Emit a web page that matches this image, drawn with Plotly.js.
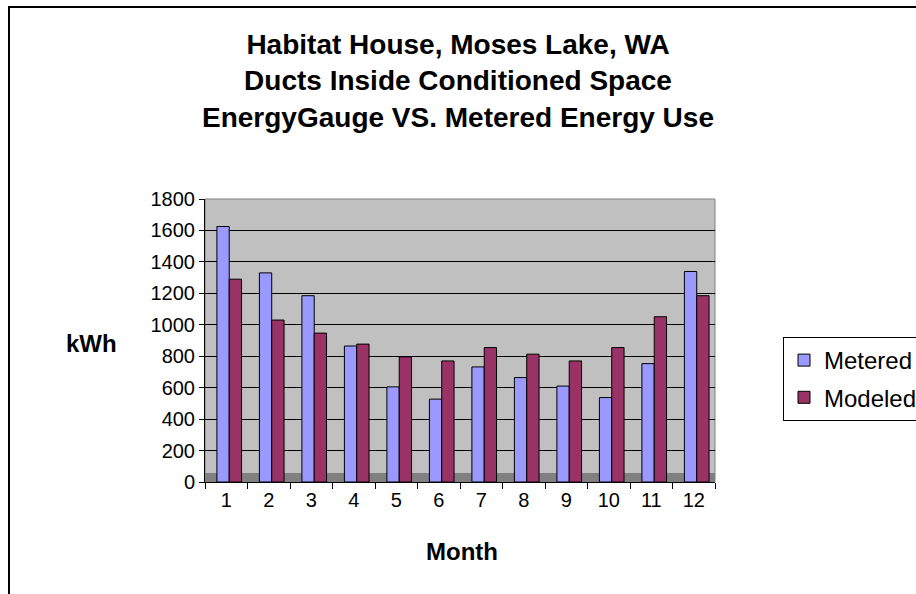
<!DOCTYPE html>
<html>
<head>
<meta charset="utf-8">
<script src="https://cdn.plot.ly/plotly-3.0.1.min.js"></script>
<style>
html,body{margin:0;padding:0;background:#fff;overflow:hidden;}
#frame{position:absolute;left:8px;top:6px;width:1000px;height:1000px;border:2px solid #000;box-sizing:border-box;pointer-events:none;z-index:5;}
#chart{position:absolute;left:0;top:0;width:916px;height:594px;}
</style>
</head>
<body>
<div id="chart"></div>
<div id="frame"></div>
<script>
const months = ['1','2','3','4','5','6','7','8','9','10','11','12'];
const metered = [1625, 1330, 1185, 865, 605, 527, 732, 664, 610, 537, 753, 1339];
const modeled = [1290, 1030, 947, 877, 796, 770, 855, 813, 770, 855, 1051, 1185];
const titleLines = ['Habitat House, Moses Lake, WA', 'Ducts Inside Conditioned Space', 'EnergyGauge VS. Metered Energy Use'];
const yTicks = [0, 200, 400, 600, 800, 1000, 1200, 1400, 1600, 1800];

const font = 'Arial, "Liberation Sans", sans-serif';

const traces = [
  {type:'bar', name:'Metered', x:months, y:metered, legendgroup:'a', width:0.29, offset:-0.22,
   marker:{color:'#9999FF', line:{color:'#000', width:1}}},
  {type:'bar', name:'Modeled', x:months, y:modeled, legendgroup:'b', width:0.29, offset:0.07,
   marker:{color:'#993366', line:{color:'#000', width:1}}}
];

const layout = {
  width:916, height:594,
  paper_bgcolor:'#fff', plot_bgcolor:'#C0C0C0',
  margin:{l:205, r:201, t:199, b:112, autoexpand:false},
  font:{family:font, size:20, color:'#000'},
  title:{text:titleLines.join('<br>'), font:{family:font, size:28, color:'#000', weight:'bold'},
         x:0.5, xref:'container', xanchor:'center', y:1-54/594, yref:'container', yanchor:'top'},
  barmode:'overlay',
  showlegend:true,
  legend:{x:(783-205)/510, xanchor:'left', y:(482-337)/283, yanchor:'top',
          bgcolor:'#fff', bordercolor:'#000', borderwidth:1,
          font:{family:font, size:24}, tracegroupgap:3, itemwidth:30},
  xaxis:{type:'category', tickson:'boundaries', ticks:'outside', ticklen:6, tickcolor:'#000',
         showline:true, linecolor:'#000', linewidth:1, showgrid:false,
         tickfont:{family:font, size:20}},
  yaxis:{range:[0,1800], tickvals:yTicks, ticks:'outside', ticklen:5, tickcolor:'#000',
         showline:true, linecolor:'#000', linewidth:1,
         showgrid:true, gridcolor:'#000', gridwidth:1, zeroline:false,
         tickfont:{family:font, size:20}},
  shapes:[
    {type:'rect', xref:'paper', yref:'paper', x0:0, x1:1, y0:0, y1:1, line:{color:'#808080', width:1}, layer:'below'},
    {type:'rect', xref:'paper', yref:'paper', x0:0, x1:1, y0:0, y1:9/283, fillcolor:'#808080', line:{width:0}, layer:'below'}
  ],
  annotations:[
    {text:'<b>kWh</b>', xref:'paper', yref:'paper', x:(91-205)/510, y:(482-343)/283, xanchor:'center', yanchor:'middle',
     showarrow:false, font:{family:font, size:24}},
    {text:'<b>Month</b>', xref:'paper', yref:'paper', x:(462-205)/510, y:-(551-482)/283, xanchor:'center', yanchor:'middle',
     showarrow:false, font:{family:font, size:24}}
  ]
};

Plotly.newPlot('chart', traces, layout, {displayModeBar:false, staticPlot:true});
</script>
</body>
</html>
